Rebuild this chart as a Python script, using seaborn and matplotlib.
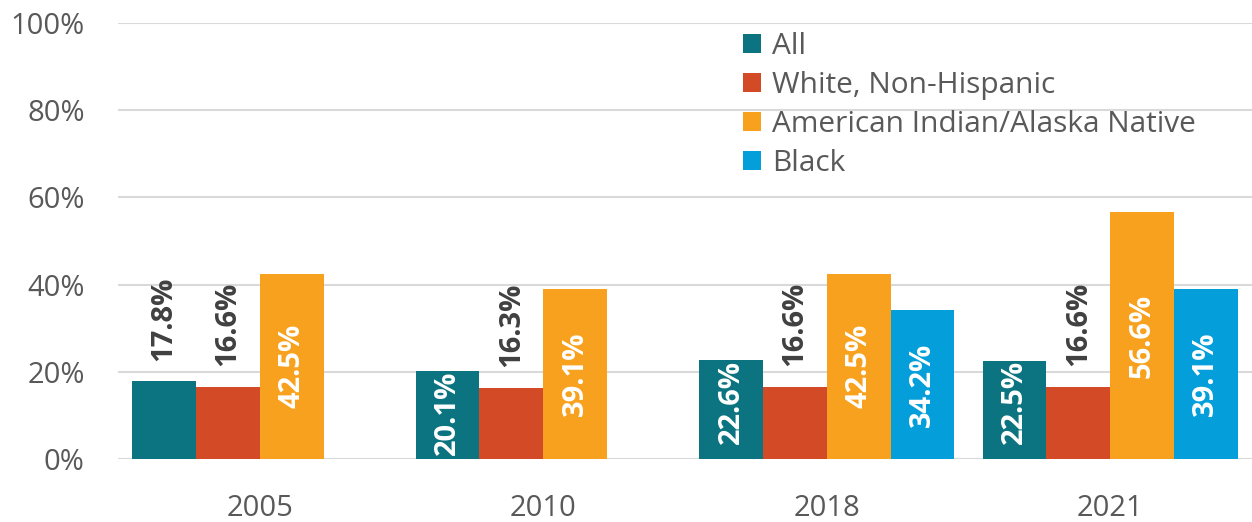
import numpy as np
import pandas as pd
import matplotlib
matplotlib.use("Agg")
import matplotlib.pyplot as plt
import seaborn as sns
from matplotlib.ticker import FixedLocator

years = ["2005", "2010", "2018", "2021"]
groups = ["All", "White, Non-Hispanic", "American Indian/Alaska Native", "Black"]
all_vals = [17.8, 20.1, 22.6, 22.5]
white_vals = [16.6, 16.3, 16.6, 16.6]
aian_vals = [42.5, 39.1, 42.5, 56.6]
black_vals = [np.nan, np.nan, 34.2, 39.1]
colors = ["#0B7480", "#D34A27", "#F8A11E", "#049FDA"]
y_ticks = [0, 20, 40, 60, 80, 100]
y_tick_labels = ["0%", "20%", "40%", "60%", "80%", "100%"]

rows = []
for g, vals in zip(groups, [all_vals, white_vals, aian_vals, black_vals]):
    for y, v in zip(years, vals):
        rows.append({"year": y, "group": g, "value": v})
df = pd.DataFrame(rows).dropna()

sns.set_theme(style="white")
plt.rcParams["font.family"] = ["Open Sans", "DejaVu Sans"]

fig = plt.figure(figsize=(12.52, 5.22), dpi=100)
ax = fig.add_axes([118 / 1252, 63 / 522, 1134 / 1252, 436 / 522])

sns.barplot(data=df, x="year", y="value", hue="group", order=years,
            hue_order=groups, palette=colors, width=0.9, saturation=1,
            errorbar=None, ax=ax, linewidth=0)

ax.set_xlim(-0.5, 3.5)
ax.set_ylim(0, 100)
ax.yaxis.set_major_locator(FixedLocator(y_ticks))
ax.set_yticklabels(y_tick_labels)
ax.grid(axis="y", color="#D9D9D9", linewidth=1.5)
ax.set_axisbelow(True)
for s in ax.spines.values():
    s.set_visible(False)
ax.set_xlabel("")
ax.set_ylabel("")
ax.tick_params(axis="y", length=0, pad=24, labelsize=21, labelcolor="#595959")
ax.tick_params(axis="x", length=0, pad=25, labelsize=21, labelcolor="#595959")

for cont in ax.containers:
    for bar in cont:
        h = bar.get_height()
        if np.isnan(h):
            continue
        xc = bar.get_x() + bar.get_width() / 2
        txt = f"{h:.1f}%"
        if h >= 20:
            yc = h / 2 if h >= 24 else h - 9.5
            ax.text(xc, yc, txt, rotation=90, ha="center", va="center",
                    color="white", fontsize=21, fontweight="bold")
        else:
            ax.annotate(txt, (xc, h), xytext=(0, 15), textcoords="offset points",
                        rotation=90, ha="center", va="bottom",
                        color="#404040", fontsize=21, fontweight="bold")

handles, labels = ax.get_legend_handles_labels()
ax.legend(handles, labels, loc="upper left", bbox_to_anchor=(0.535, 1.02),
          frameon=False, fontsize=21.5, labelcolor="#595959",
          handlelength=0.6, handleheight=0.6, handletextpad=0.4,
          labelspacing=0.33, borderaxespad=0.2)

fig.savefig("out.png", dpi=100)
